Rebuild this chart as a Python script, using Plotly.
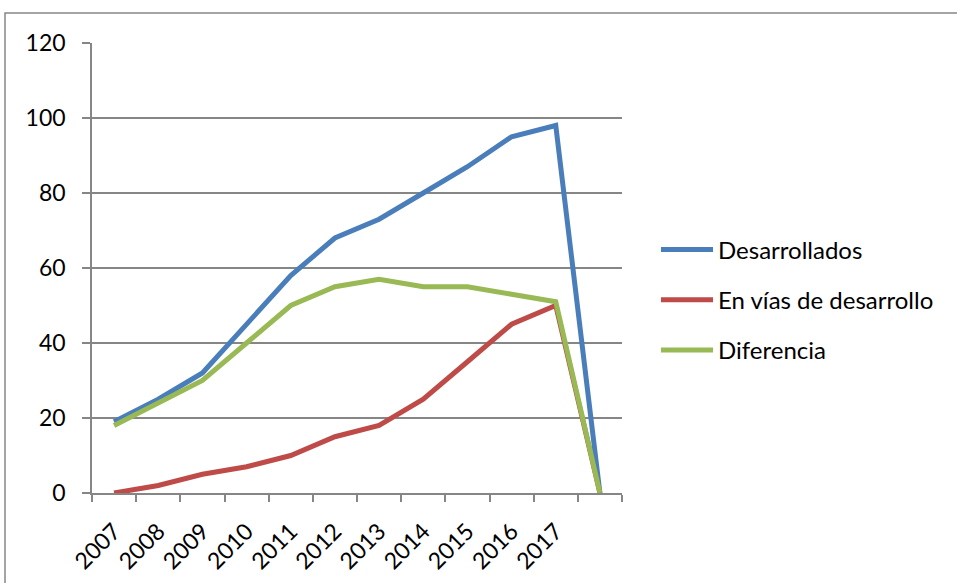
import plotly.graph_objects as go

# Categories (the last slot is an empty category whose values drop to 0)
years = ["2007", "2008", "2009", "2010", "2011", "2012",
         "2013", "2014", "2015", "2016", "2017", " "]

desarrollados = [19, 25, 32, 45, 58, 68, 73, 80, 87, 95, 98, 0]
en_vias = [0, 2, 5, 7, 10, 15, 18, 25, 35, 45, 50, 0]
diferencia = [18, 24, 30, 40, 50, 55, 57, 55, 55, 53, 51, 0]

series = [
    ("Desarrollados", desarrollados, "#4A7EBB"),
    ("En vías de desarrollo", en_vias, "#BE4B48"),
    ("Diferencia", diferencia, "#98B954"),
]

FONT = "Lato, 'Open Sans', sans-serif"
GRID = "#868686"

fig = go.Figure()
for i, (name, vals, color) in enumerate(series):
    fig.add_trace(go.Scatter(
        x=years, y=vals, name=name, mode="lines",
        line=dict(color=color, width=5),
        legendgroup=f"g{i}",
    ))

W, H = 957, 583
L, R, T, B = 92, 622, 43, 493

fig.update_layout(
    width=W, height=H,
    margin=dict(l=L, r=W - R, t=T, b=H - B, pad=0, autoexpand=False),
    paper_bgcolor="white", plot_bgcolor="white",
    font=dict(family=FONT, size=23, color="#000000"),
    showlegend=True,
    legend=dict(
        x=(656 - L) / (R - L), xanchor="left",
        y=(B - 300) / (B - T), yanchor="middle",
        font=dict(family=FONT, size=24, color="#000000"),
        traceorder="grouped", tracegroupgap=16,
        itemwidth=52, bgcolor="rgba(0,0,0,0)",
    ),
    xaxis=dict(
        type="category", categoryorder="array", categoryarray=years,
        tickson="boundaries", ticks="outside", ticklen=7, tickcolor=GRID,
        tickwidth=1.5, showline=True, linecolor=GRID, linewidth=1.5,
        showgrid=False, tickangle=-45, range=[-0.5, 11.5],
        tickfont=dict(family=FONT, size=23),
        ticklabelstandoff=14, automargin=False,
    ),
    yaxis=dict(
        range=[0, 120], dtick=20, tick0=0,
        ticks="outside", ticklen=8, tickcolor=GRID, tickwidth=1.5,
        showline=True, linecolor=GRID, linewidth=1.5,
        showgrid=True, gridcolor=GRID, gridwidth=1.5,
        zeroline=False, tickfont=dict(family=FONT, size=23),
        ticklabelstandoff=12, automargin=False,
    ),
    shapes=[dict(
        type="rect", xref="paper", yref="paper",
        x0=(5 - L) / (R - L), x1=3,
        y0=-2, y1=(B - 13) / (B - T),
        line=dict(color=GRID, width=1.5), layer="below",
    )],
)

fig.write_html("out.html")
